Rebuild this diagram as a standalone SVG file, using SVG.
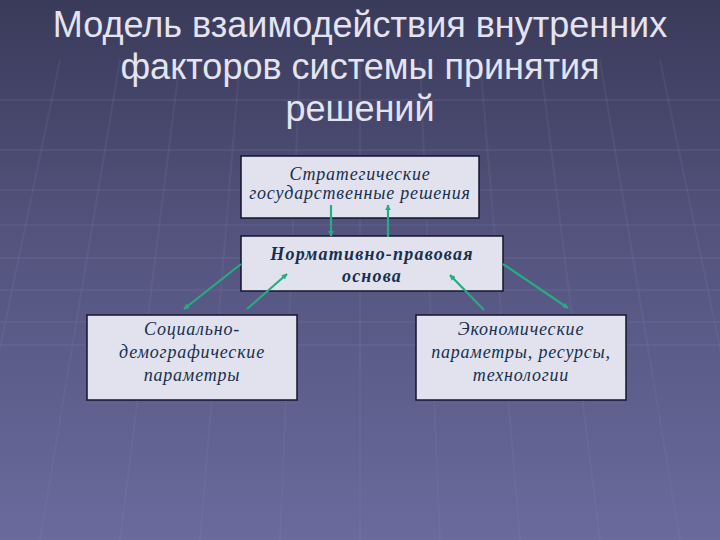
<svg xmlns="http://www.w3.org/2000/svg" width="720" height="540" viewBox="0 0 720 540">
<defs>
<linearGradient id="bg" x1="0" y1="0" x2="0" y2="1">
<stop offset="0" stop-color="#3a3a5a"/>
<stop offset="0.45" stop-color="#54547f"/>
<stop offset="1" stop-color="#6a6a9c"/>
</linearGradient>
<marker id="ah" viewBox="0 0 10 10" refX="9" refY="5" markerWidth="2.6" markerHeight="2.6" orient="auto-start-reverse">
<path d="M0,0 L10,5 L0,10 z" fill="#26ac80"/>
</marker>
<style>
.box{fill:#e2e2ee;stroke:#15152e;stroke-width:1.5}
.t{font-family:"Liberation Serif","DejaVu Serif",serif;font-style:italic;fill:#17304f;text-anchor:middle;font-size:18px;letter-spacing:0.8px}
.b{font-weight:bold;letter-spacing:1.2px}
.title{font-family:"Liberation Sans",Arial,sans-serif;fill:#e4e4f0;text-anchor:middle;font-size:36px}
.c{stroke:#26ac80;stroke-width:2.2;fill:none}
.g{stroke:#8a8ab8;stroke-opacity:0.13;stroke-width:2;fill:none}
</style>
</defs>
<rect width="720" height="540" fill="url(#bg)"/>
<g id="grid">
<path class="g" d="M0,100 H720 M0,150 H720 M0,190 H720 M0,225 H720 M0,258 H720 M0,290 H720 M0,322 H720 M0,345 H720"/>
<path class="g" d="M360,60 L360,540 M300,60 L280,540 M240,60 L200,540 M180,60 L120,540 M120,60 L40,540 M60,60 L-40,540 M420,60 L440,540 M480,60 L520,540 M540,60 L600,540 M600,60 L680,540 M660,60 L760,540"/>
</g>
<g id="title">
<text class="title" x="360" y="37">Модель взаимодействия внутренних</text>
<text class="title" x="360" y="79">факторов системы принятия</text>
<text class="title" x="360" y="121">решений</text>
</g>
<g id="node-strategic">
<rect class="box" x="241" y="156" width="238" height="62"/>
<text class="t" x="360" y="180">Стратегические</text>
<text class="t" x="360" y="199">государственные решения</text>
</g>
<g id="node-normative">
<rect class="box" x="241" y="236" width="262" height="55"/>
<text class="t b" x="372" y="260">Нормативно-правовая</text>
<text class="t b" x="372" y="282">основа</text>
</g>
<g id="node-social">
<rect class="box" x="87" y="315" width="210" height="85"/>
<text class="t" x="192" y="335">Социально-</text>
<text class="t" x="192" y="358">демографические</text>
<text class="t" x="192" y="381">параметры</text>
</g>
<g id="node-economic">
<rect class="box" x="416" y="315" width="210" height="85"/>
<text class="t" x="521" y="335">Экономические</text>
<text class="t" x="521" y="358">параметры, ресурсы,</text>
<text class="t" x="521" y="381">технологии</text>
</g>
<g id="connectors">
<line class="c" x1="331" y1="205" x2="331" y2="236" marker-end="url(#ah)"/>
<line class="c" x1="388" y1="237" x2="388" y2="205" marker-end="url(#ah)"/>
<line class="c" x1="241" y1="264" x2="184" y2="309" marker-end="url(#ah)"/>
<line class="c" x1="247" y1="309" x2="287" y2="274" marker-end="url(#ah)"/>
<line class="c" x1="484" y1="310" x2="450" y2="275" marker-end="url(#ah)"/>
<line class="c" x1="503" y1="264" x2="568" y2="308" marker-end="url(#ah)"/>
</g>
</svg>
